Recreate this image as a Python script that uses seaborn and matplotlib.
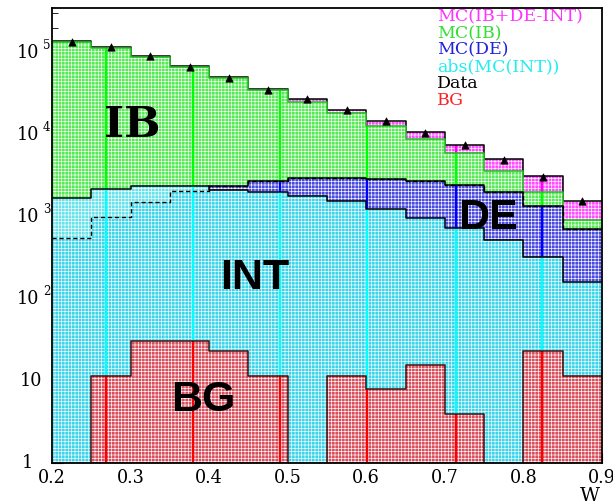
import numpy as np
import matplotlib
matplotlib.use("Agg")
import matplotlib.pyplot as plt
import matplotlib.path as mpath
import seaborn as sns

# ---------------- data ----------------
bin_edges = [0.20, 0.25, 0.30, 0.35, 0.40, 0.45, 0.50, 0.55, 0.60, 0.65, 0.70, 0.75, 0.80, 0.85, 0.90]
bin_centers = [0.225, 0.275, 0.325, 0.375, 0.425, 0.475, 0.525, 0.575, 0.625, 0.675, 0.725, 0.775, 0.825, 0.875]
mc_total = [1.37e5, 1.18e5, 9.2e4, 6.8e4, 5.0e4, 3.6e4, 2.7e4, 2.0e4, 1.45e4, 1.07e4, 7.6e3, 5.0e3, 3.1e3, 1.54e3]
mc_ib = [1.33e5, 1.14e5, 8.9e4, 6.6e4, 4.85e4, 3.5e4, 2.5e4, 1.82e4, 1.29e4, 8.9e3, 6.0e3, 3.6e3, 2.0e3, 920]
mc_de = [550, 1000, 1520, 2090, 2400, 2750, 2960, 2960, 2880, 2700, 2450, 2000, 1350, 710]
mc_int_abs = [1700, 2200, 2350, 2350, 2100, 2000, 1780, 1540, 1240, 960, 725, 525, 324, 162]
bg = [0, 11.6, 31, 31, 23.4, 11.6, 0, 11.6, 7.9, 15.7, 4.0, 0, 23.4, 11.6]
data = [1.36e5, 1.17e5, 9.1e4, 6.7e4, 4.9e4, 3.55e4, 2.7e4, 2.02e4, 1.46e4, 1.06e4, 7.5e3, 4.9e3, 3.05e3, 1.56e3]

x_ticks = [0.2, 0.3, 0.4, 0.5, 0.6, 0.7, 0.8, 0.9]
x_tick_labels = ["0.2", "0.3", "0.4", "0.5", "0.6", "0.7", "0.8", "0.9"]
y_exponents = [0, 1, 2, 3, 4, 5]
legend_entries = ["MC(IB+DE-INT)", "MC(IB)", "MC(DE)", "abs(MC(INT))", "Data", "BG"]
region_labels = ["IB", "INT", "DE", "BG"]

# ---------------- style ----------------
plt.rcParams["hatch.linewidth"] = 0.45
plt.rcParams["hatch.color"] = "white"
SERIF = "DejaVu Serif"
seam_x = [0.269, 0.379, 0.4905, 0.601, 0.714, 0.824]

fig = plt.figure(figsize=(6.13, 5.04), dpi=100)
ax = fig.add_axes([52 / 613, 1 - 463 / 504, 550 / 613, 455 / 504])
ax.set_yscale("log")
ax.set_xlim(0.2, 0.9)
ax.set_ylim(1, 3.5e5)


def layer(values, face, seam, edge, z, edge_ls="-", edge_lw=1.1, hatch="+++++"):
    sns.histplot(x=bin_centers, weights=values, bins=bin_edges, element="step",
                 fill=True, color=face, alpha=1, linewidth=0, ax=ax, zorder=z)
    poly = ax.collections[-1]
    poly.set_facecolor(face)
    poly.set_edgecolor("white")
    poly.set_linewidth(0)
    poly.set_hatch(hatch)
    poly.set_zorder(z)
    if seam is not None:
        path = mpath.Path.make_compound_path(*poly.get_paths())
        lc = ax.vlines(seam_x, 0.5, 1e6, colors=seam, linewidth=1.7, zorder=z + 0.1)
        lc.set_clip_path(path, poly.get_transform())
    if edge is not None:
        sns.histplot(x=bin_centers, weights=values, bins=bin_edges, element="step",
                     fill=False, color=edge, linewidth=edge_lw, linestyle=edge_ls,
                     ax=ax, zorder=z + 0.2)
    return poly


layer(mc_total, "#ff4dff", "#ff00ff", "black", 1)
layer(mc_ib, "#55ea55", "#00ff00", "#20c020", 2)
layer(mc_de, "#4a4ae0", "#0000ff", "black", 3)
# abs(INT): slightly paler where it rises above DE, deeper cyan where DE lies underneath
layer(mc_int_abs, "#66e2ec", None, None, 4)
layer(list(np.minimum(mc_de, mc_int_abs)), "#3cd4ea", None, None, 4.05)
layer(mc_int_abs, "none", "#00ffff", "black", 4.1, hatch=None)
sns.histplot(x=bin_centers, weights=mc_de, bins=bin_edges, element="step", fill=False,
             color="black", linewidth=1.0, linestyle=(0, (3, 2)), ax=ax, zorder=4.4)
layer(bg, "#d9505c", "#ff0000", "#401010", 5)

sns.scatterplot(x=bin_centers, y=data, marker="^", color="black", s=28,
                edgecolor="black", linewidth=0.5, ax=ax, zorder=8)

# region labels
ax.text(0.302, 1.32e4, region_labels[0], fontsize=31, fontweight="bold", family="DejaVu Serif",
        ha="center", va="center", zorder=9)
ax.text(0.458, 180, region_labels[1], fontsize=31, fontweight="bold", family="Liberation Sans",
        ha="center", va="center", zorder=9)
ax.text(0.755, 975, region_labels[2], fontsize=31, fontweight="bold", family="Liberation Sans",
        ha="center", va="center", zorder=9)
ax.text(0.392, 5.9, region_labels[3], fontsize=31, fontweight="bold", family="Liberation Sans",
        ha="center", va="center", zorder=9)

# legend (text only, coloured)
leg_colors = ["#ff33ff", "#33dd33", "#2222dd", "#22eeee", "black", "#ff2222"]
for i, (txt, c) in enumerate(zip(legend_entries, leg_colors)):
    ax.text(0.6995, 0.980 - i * 0.0365, txt, transform=ax.transAxes, color=c,
            fontsize=12.5, family=SERIF, ha="left", va="center", zorder=10)

# axes styling
for s in ax.spines.values():
    s.set_color("black")
    s.set_linewidth(1.3)
    s.set_zorder(20)
ax.set_xticks(x_ticks)
ax.set_xticklabels(x_tick_labels, fontsize=12.7, family=SERIF)
ax.set_xticks(np.arange(0.2, 0.9001, 0.02), minor=True)
ax.tick_params(axis="x", which="major", direction="in", length=7, width=0.8, pad=4,
               top=False, labelsize=12.7)
ax.tick_params(axis="x", which="minor", direction="in", length=3.5, width=0.6, top=False)
ax.set_yticks([10.0 ** e for e in y_exponents])
ax.set_yticklabels([])
ax.tick_params(axis="y", which="major", direction="in", length=8, width=0.8, right=False)
ax.tick_params(axis="y", which="minor", direction="in", length=4, width=0.6, right=False)
ax.set_xlabel("")
ax.set_ylabel("")

ytr = ax.get_yaxis_transform()
for e in y_exponents:
    v = 10.0 ** e
    if e == 0:
        ax.annotate("1", xy=(0, v), xycoords=ytr, xytext=(-19, 0), textcoords="offset pixels",
                    ha="right", va="center", fontsize=12.7, family=SERIF, annotation_clip=False)
    elif e == 1:
        ax.annotate("10", xy=(0, v), xycoords=ytr, xytext=(-10, 0), textcoords="offset pixels",
                    ha="right", va="center", fontsize=12.7, family=SERIF, annotation_clip=False)
    else:
        ax.annotate("10", xy=(0, v), xycoords=ytr, xytext=(-13, 0), textcoords="offset pixels",
                    ha="right", va="center", fontsize=12.7, family=SERIF, annotation_clip=False)
        ax.annotate(str(e), xy=(0, v), xycoords=ytr, xytext=(-9, 7), textcoords="offset pixels",
                    ha="left", va="center", fontsize=8.5, family=SERIF, annotation_clip=False)

fig.text(600 / 613, 1 - 496 / 504, "W", fontsize=14, family=SERIF, ha="right", va="center")

fig.savefig("out.png", dpi=100)
